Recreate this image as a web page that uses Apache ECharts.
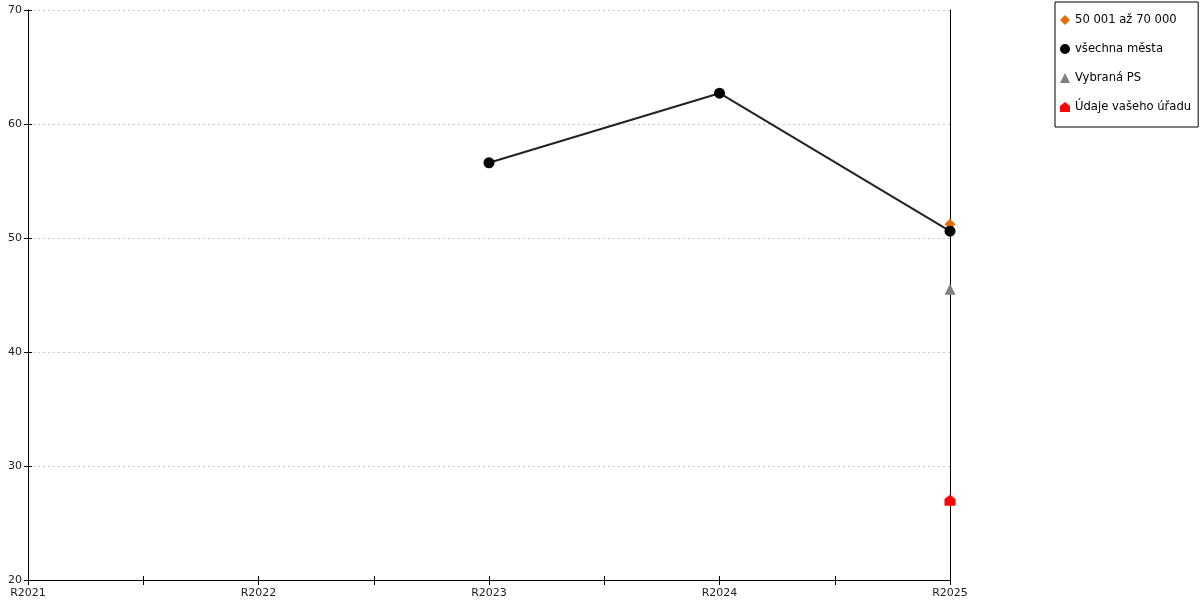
<!DOCTYPE html>
<html><head><meta charset="utf-8">
<script src="https://cdn.jsdelivr.net/npm/echarts@6/dist/echarts.min.js"></script>
<style>html,body{margin:0;padding:0;background:#fff}#c{width:1200px;height:600px}</style>
</head><body><div id="c"></div>
<script>
const categories = ['R2021','R2022','R2023','R2024','R2025'];
const seriesNames = ['50 001 až 70 000','všechna města','Vybraná PS','Údaje vašeho úřadu'];
const valsSize = [null,null,null,null,51.2];
const valsAll = [null,null,56.6,62.7,50.6];
const valsPS = [null,null,null,null,45.5];
const valsOffice = [null,null,null,null,27.0];
const yTicks = {min:20,max:70,interval:10};

const toPts = arr => arr.map((v,i)=> v==null ? null : [i,v]).filter(p=>p);
const housePath = 'path://M0,4 L5,0 L10,4 L10,10 L0,10 Z';
const font = 'DejaVu Sans';

const xBase = {
  type:'value', min:0, max:categories.length-1, interval:0.5, position:'bottom',
  axisLine:{show:true,onZero:false,lineStyle:{color:'#000',width:1}},
  splitLine:{show:false},
};
const yBase = {
  type:'value', min:yTicks.min, max:yTicks.max, interval:yTicks.interval, position:'left',
  axisLine:{show:true,onZero:false,lineStyle:{color:'#000',width:1}},
};
const option = {
  animation:false,
  textStyle:{fontFamily:font},
  grid:{left:28,right:250,top:10,bottom:20,containLabel:false},
  xAxis:[
    Object.assign({},xBase,{
      axisTick:{show:true,inside:false,length:5,lineStyle:{color:'#000'}},
      axisLabel:{show:true,color:'#222',fontSize:11,fontFamily:font,margin:8,
        formatter:v=> Number.isInteger(v) ? categories[v] : ''}
    }),
    Object.assign({},xBase,{
      axisTick:{show:true,inside:true,length:4,lineStyle:{color:'#000'}},
      axisLabel:{show:false}
    })
  ],
  yAxis:[
    Object.assign({},yBase,{
      axisTick:{show:true,inside:false,length:4,lineStyle:{color:'#000'}},
      axisLabel:{show:true,color:'#222',fontSize:11,fontFamily:font,margin:6},
      splitLine:{show:true,lineStyle:{color:'#c8c8c8',type:[2,3],width:1}}
    }),
    Object.assign({},yBase,{
      axisTick:{show:true,inside:true,length:4,lineStyle:{color:'#000'}},
      axisLabel:{show:false},splitLine:{show:false}
    }),
    Object.assign({},yBase,{
      position:'right',
      axisTick:{show:false},axisLabel:{show:false},splitLine:{show:false}
    })
  ],
  legend:{
    orient:'vertical', left:1055, top:2,
    borderColor:'#000', borderWidth:1, padding:[12,7,14,5],
    itemWidth:10, itemHeight:10, itemGap:17,
    textStyle:{fontFamily:font,fontSize:11.6,color:'#000',padding:[0,0,0,0]},
    data:[
      {name:seriesNames[0],icon:'diamond'},
      {name:seriesNames[1],icon:'circle'},
      {name:seriesNames[2],icon:'triangle'},
      {name:seriesNames[3],icon:housePath}
    ]
  },
  series:[
    {name:seriesNames[1],type:'line',data:toPts(valsAll),symbol:'circle',symbolSize:11,
      itemStyle:{color:'#000'},lineStyle:{color:'#222',width:2},z:3},
    {name:seriesNames[0],type:'line',data:toPts(valsSize),symbol:'diamond',symbolSize:11,
      itemStyle:{color:'#e46c0a'},lineStyle:{color:'#e46c0a',width:2},z:2},
    {name:seriesNames[2],type:'line',data:toPts(valsPS),symbol:'triangle',symbolSize:11,
      itemStyle:{color:'#808080'},lineStyle:{color:'#808080',width:2},z:2},
    {name:seriesNames[3],type:'line',data:toPts(valsOffice),symbol:housePath,symbolSize:11,
      itemStyle:{color:'#ff0000'},lineStyle:{color:'#ff0000',width:2},z:2}
  ]
};
echarts.init(document.getElementById('c')).setOption(option);
</script></body></html>
